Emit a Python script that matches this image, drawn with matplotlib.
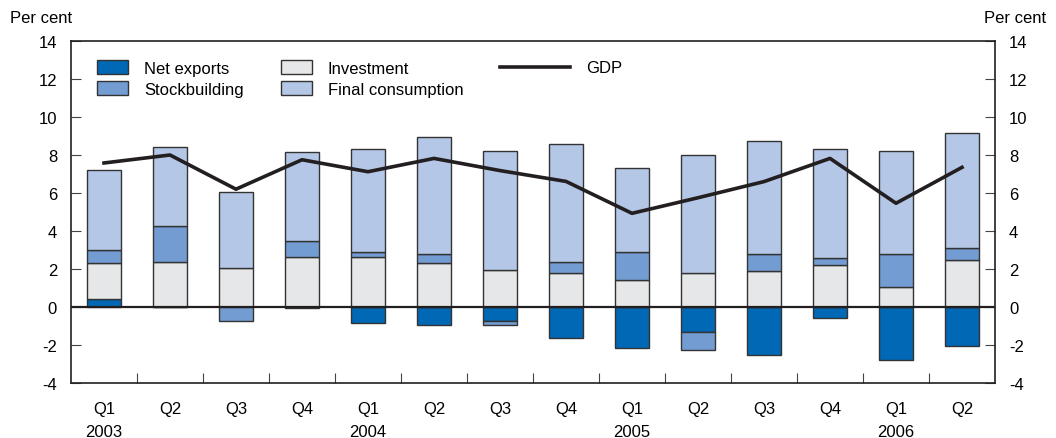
import numpy as np
from matplotlib import pyplot as plt
from matplotlib.patches import Patch
from matplotlib.lines import Line2D

plt.rcParams['font.family'] = ['Liberation Sans', 'DejaVu Sans']
plt.rcParams['axes.unicode_minus'] = False

quarters = ['Q1', 'Q2', 'Q3', 'Q4', 'Q1', 'Q2', 'Q3', 'Q4', 'Q1', 'Q2', 'Q3', 'Q4', 'Q1', 'Q2']
years = ['2003', '', '', '', '2004', '', '', '', '2005', '', '', '', '2006', '']

net_exports = [0.44, 0.0, 0.0, -0.07, -0.84, -0.93, -0.74, -1.61, -2.16, -1.33, -2.54, -0.60, -2.79, -2.04]
investment = [1.86, 2.39, 2.03, 2.65, 2.65, 2.30, 1.96, 1.79, 1.44, 1.79, 1.88, 2.21, 1.04, 2.46]
stockbuilding = [0.68, 1.86, -0.75, 0.84, 0.26, 0.51, -0.19, 0.60, 1.45, -0.93, 0.93, 0.35, 1.77, 0.63]
final_consumption = [4.25, 4.15, 4.00, 4.65, 5.41, 6.12, 6.27, 6.19, 4.41, 6.21, 5.94, 5.76, 5.42, 6.07]
gdp = [7.58, 8.00, 6.20, 7.75, 7.12, 7.82, 7.18, 6.61, 4.93, 5.75, 6.60, 7.82, 5.46, 7.35]

series = [
    ('Net exports', net_exports, '#0068b4'),
    ('Investment', investment, '#e6e7e8'),
    ('Stockbuilding', stockbuilding, '#739cd2'),
    ('Final consumption', final_consumption, '#b4c7e7'),
]

fig = plt.figure(figsize=(10.56, 4.39), dpi=100)
ax = fig.add_axes([71 / 1056, 55 / 439, (995 - 71) / 1056, (384 - 42) / 439])

x = np.arange(len(quarters))
pos_base = np.zeros(len(x))
neg_base = np.zeros(len(x))
for name, vals, col in series:
    v = np.array(vals)
    bottom = np.where(v >= 0, pos_base, neg_base)
    ax.bar(x, v, 0.53, bottom=bottom, color=col, edgecolor='#333333', linewidth=1.0, zorder=2)
    pos_base += np.where(v >= 0, v, 0)
    neg_base += np.where(v < 0, v, 0)

ax.plot(x, gdp, color='#231f20', linewidth=2.6, zorder=4)
ax.axhline(0, color='#231f20', linewidth=1.6, zorder=3)

ax.set_xlim(-0.5, len(x) - 0.5)
ax.set_ylim(-4, 14)
ax.set_yticks(range(-4, 15, 2))

ax.set_xticks(x)
ax.set_xticklabels([q + '\n' + y if y else q for q, y in zip(quarters, years)],
                   fontsize=12, linespacing=1.7, va='top')
ax.tick_params(axis='x', length=0, pad=13)
ax.set_xticks(x[:-1] + 0.5, minor=True)
ax.tick_params(axis='x', which='minor', direction='in', length=7, width=0.8, color='#444444')

ax.tick_params(axis='y', direction='in', length=7, width=0.8, color='#444444',
               labelsize=12, left=True, right=True, labelleft=True, labelright=True, pad=10)

for s in ax.spines.values():
    s.set_color('#231f20')
    s.set_linewidth(1.2)

fig.text(10 / 1056, 1 - 11 / 439, 'Per cent', fontsize=12, ha='left', va='top')
fig.text(1046 / 1056, 1 - 11 / 439, 'Per cent', fontsize=12, ha='right', va='top')

# legend: three separate columns placed like the original
h = {n: Patch(facecolor=c, edgecolor='#333333', linewidth=1.0) for n, _, c in series}
legend_kw = dict(loc='upper left', frameon=False, fontsize=12, handletextpad=0.95,
                 labelspacing=0.32, borderaxespad=0, borderpad=0)
leg1 = ax.legend([h['Net exports'], h['Stockbuilding']], ['Net exports', 'Stockbuilding'],
                 bbox_to_anchor=(0.0281, 0.943), handlelength=1.86, handleheight=0.85, **legend_kw)
ax.add_artist(leg1)
leg2 = ax.legend([h['Investment'], h['Final consumption']], ['Investment', 'Final consumption'],
                 bbox_to_anchor=(0.2273, 0.943), handlelength=1.86, handleheight=0.85, **legend_kw)
ax.add_artist(leg2)
ax.legend([Line2D([0], [0], color='#231f20', linewidth=2.6)], ['GDP'],
          bbox_to_anchor=(0.4643, 0.943), handlelength=4.2, **legend_kw)

fig.savefig('out.png', dpi=100)
